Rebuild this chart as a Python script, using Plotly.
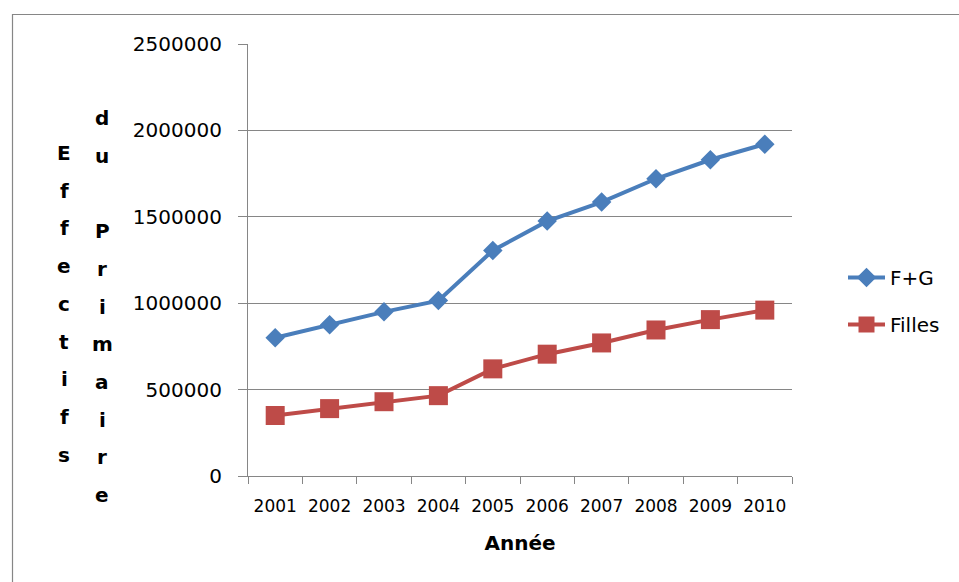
import plotly.graph_objects as go

# Years and enrolment counts for primary school
years = ["2001", "2002", "2003", "2004", "2005", "2006", "2007", "2008", "2009", "2010"]
total_fg = [800000, 875000, 950000, 1015000, 1305000, 1475000, 1585000, 1720000, 1830000, 1920000]
filles = [350000, 390000, 430000, 465000, 620000, 705000, 770000, 845000, 905000, 960000]
y_ticks = [0, 500000, 1000000, 1500000, 2000000, 2500000]
y_tick_text = ["0", "500000", "1000000", "1500000", "2000000", "2500000"]

x_title = "Année"
y_title = "Effectifs du Primaire"

BLUE = "#4A7EBB"
RED = "#BE4B48"
GRID = "#868686"
FONT = "DejaVu Sans"

W, H = 959, 582
L, R, T, B = 248, 167, 44, 106
plot_w = W - L - R
plot_h = H - T - B


def px_to_paper(px, py):
    return (px - L) / plot_w, (H - B - py) / plot_h


fig = go.Figure()
fig.add_trace(go.Scatter(
    x=years, y=total_fg, name="F+G", mode="lines+markers",
    line=dict(color=BLUE, width=4),
    marker=dict(symbol="diamond", size=15, color=BLUE),
    legendgroup="a",
))
fig.add_trace(go.Scatter(
    x=years, y=filles, name="Filles", mode="lines+markers",
    line=dict(color=RED, width=4),
    marker=dict(symbol="square", size=19, color=RED),
    legendgroup="b",
))

# Stacked, wrapped vertical axis title (one letter per row, two columns)
annotations = []
words = [y_title.split(" ", 1)[0], y_title.split(" ", 1)[1]]
columns = [(64, 153, words[0]), (102, 118, words[1])]
step = 37.7
for cx, cy0, word in columns:
    for i, ch in enumerate(word):
        if ch == " ":
            continue
        xp, yp = px_to_paper(cx, cy0 + i * step)
        annotations.append(dict(
            text=ch, x=xp, y=yp, xref="paper", yref="paper",
            xanchor="center", yanchor="middle", showarrow=False,
            font=dict(family=FONT, size=20, color="#000000", weight="bold"),
        ))

# Outer chart frame
fx0, fy0 = px_to_paper(12.5, 14.5)
fx1, fy1 = px_to_paper(990, 620)

fig.update_layout(
    width=W, height=H,
    margin=dict(l=L, r=R, t=T, b=B),
    paper_bgcolor="white", plot_bgcolor="white",
    font=dict(family=FONT, color="#000000"),
    annotations=annotations,
    shapes=[dict(type="rect", xref="paper", yref="paper",
                 x0=fx0, y0=fy1, x1=fx1, y1=fy0,
                 line=dict(color=GRID, width=1.2), layer="below")],
    showlegend=True,
    legend=dict(
        x=px_to_paper(843, 0)[0], xanchor="left",
        y=px_to_paper(0, 258)[1], yanchor="top",
        font=dict(family=FONT, size=20, color="#000000"),
        bgcolor="rgba(0,0,0,0)", borderwidth=0,
        tracegroupgap=18, itemwidth=37,
    ),
    xaxis=dict(
        type="category", tickson="boundaries",
        showgrid=False, showline=True, linecolor=GRID, linewidth=1.2,
        ticks="outside", ticklen=7, tickcolor=GRID, tickwidth=1.2,
        tickfont=dict(family=FONT, size=17, color="#000000"),
        ticklabelstandoff=14,
        title=dict(text=x_title, standoff=21,
                   font=dict(family=FONT, size=20, color="#000000", weight="bold")),
        range=[-0.5, 9.5],
    ),
    yaxis=dict(
        range=[0, 2500000], tickvals=y_ticks, ticktext=y_tick_text,
        showgrid=True, gridcolor=GRID, gridwidth=1.2,
        showline=True, linecolor=GRID, linewidth=1.2,
        ticks="outside", ticklen=9, tickcolor=GRID, tickwidth=1.2,
        tickfont=dict(family=FONT, size=20, color="#000000"),
        ticklabelstandoff=12,
        zeroline=False,
    ),
)

fig.write_html("out.html")
